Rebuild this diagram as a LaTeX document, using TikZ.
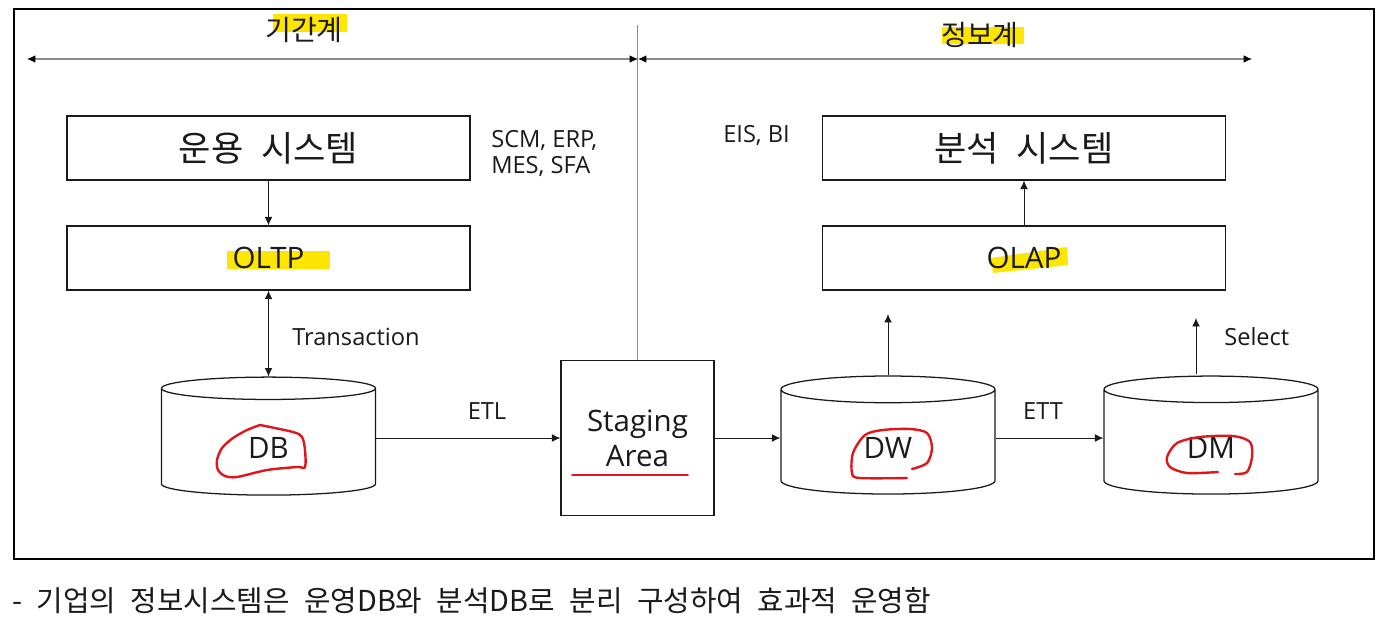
\documentclass[tikz,border=0pt]{standalone}
\usepackage{fontspec}
\setmainfont{Open Sans}
\newfontfamily\kr{Noto Sans CJK KR}
\usetikzlibrary{arrows.meta,positioning,shapes.geometric}
\definecolor{ink}{HTML}{1A1A1A}
\definecolor{rulegray}{HTML}{8C8C8C}
\definecolor{hilite}{HTML}{FFE600}
\definecolor{pen}{HTML}{E0161B}
\newcommand\widesp[1]{\spaceskip=#1\relax}
\tikzset{
  sysbox/.style={draw=ink,line width=0.9pt,minimum width=100.75mm,
                 minimum height=16mm,inner sep=0pt},
  dbcyl/.style={cylinder,shape border rotate=90,draw=ink,line width=0.9pt,
                aspect=0.55,minimum width=53.5mm,minimum height=29.5mm,
                inner sep=0pt,text height=8mm,text depth=0pt},
  lbl/.style={font=\fontsize{16.8}{18.5}\selectfont,text=ink,inner sep=0pt},
  big/.style={font=\fontsize{21}{25}\selectfont,text=ink,inner sep=0pt},
  krbig/.style={font={\kr\fontsize{25}{29}\selectfont\widesp{0.5em}},text=ink},
  krtop/.style={font=\kr\fontsize{20}{24}\selectfont,text=ink,inner sep=0pt},
  arrowthin/.style={-{Latex[length=6pt,width=5.5pt]},line width=0.6pt,ink},
  arrowboth/.style={{Latex[length=6pt,width=5.5pt]}-{Latex[length=6pt,width=5.5pt]},
                    line width=0.6pt,ink},
  span/.style={{Latex[length=6pt,width=5.5pt,color=black]}-{Latex[length=6pt,width=5.5pt,color=black]},
               line width=0.8pt,rulegray},
  redpen/.style={pen,line width=1.7pt,line cap=round,line join=round},
}

\begin{document}
\begin{tikzpicture}[x=0.25mm,y=-0.25mm]
  \useasboundingbox (0,0) rectangle (1393,624);
  \draw[black,line width=1.4pt] (14,9) rectangle (1374,559);
  % markers under the text
  \fill[hilite] (273,14) rectangle (347,32);
  \fill[hilite] (942,27) rectangle (1024,44);
  \fill[hilite] (227,251) rectangle (330,269);
  \fill[hilite] (991,258) -- (1067,247) -- (1068,265) -- (993,273) -- cycle;
  % operational side
  \node[sysbox,krbig] (ops) at (268.5,148) {운용 시스템};
  \node[sysbox,big] (oltp) at (268.5,258) {OLTP};
  \node[dbcyl,big] (db) at (268.5,442) {DB};
  \node[draw=ink,line width=0.9pt,minimum width=38.25mm,minimum height=38.75mm,
        align=center,big] (stage) at (637.5,438) {Staging\\Area};
  % analytic side
  \node[sysbox,krbig] (anl) at (1024,148) {분석 시스템};
  \node[sysbox,big] (olap) at (1024,258) {OLAP};
  \node[dbcyl,big] (dw) at (888,442) {DW};
  \node[dbcyl,big] (dm) at (1211,442) {DM};
  % labels
  \node[krtop] (legacy) at (304,30) {기간계};
  \node[krtop] (info) at (980,35) {정보계};
  \node[lbl,anchor=west,align=left] (erp) at (491,153) {SCM, ERP,\\MES, SFA};
  \node[lbl,anchor=west] (eis) at (723,135) {EIS, BI};
  \node[lbl,anchor=west] (trans) at (292,337) {Transaction};
  \node[lbl] (etl) at (487,411) {ETL};
  \node[lbl] (ett) at (1043,411) {ETT};
  \node[lbl,anchor=west] (sel) at (1224,337) {Select};
  \node[anchor=west,inner sep=0pt,text=ink,
        font={\kr\fontsize{20.5}{24}\selectfont\widesp{0.5em}}]
    (note) at (12,601) {- 기업의 정보시스템은 운영DB와 분석DB로 분리 구성하여 효과적 운영함};
  % free ends
  \coordinate (lend) at (27,59);
  \coordinate (mid) at (638,59);
  \coordinate (rend) at (1252,59);
  \coordinate (divtop) at (637.5,25);
  \coordinate (dwup) at (888,314);
  \coordinate (dmlow) at (1196,374);
  \coordinate (dmup) at (1196,318);
  % connectors
  \draw[rulegray,line width=0.8pt] (stage.north) -- (divtop);
  \draw[span] (lend) -- (mid);
  \draw[span] (mid) -- (rend);
  \draw[arrowthin] (ops) -- (oltp);
  \draw[arrowboth] (oltp) -- (db);
  \draw[arrowthin] (stage.west -| db.east) -- (stage.west);
  \draw[arrowthin] (stage.east) -- (stage.east -| dw.west);
  \draw[arrowthin] (stage.east -| dw.east) -- (stage.east -| dm.west);
  \draw[arrowthin] (olap) -- (anl);
  \draw[arrowthin] (dw.north) -- (dwup);
  \draw[arrowthin] (dmlow) -- (dmup);
  % red pen marks
  \draw[redpen] plot[smooth] coordinates {(260,425) (293,432) (302,437) (305,450)
    (305,467) (297,467) (267,470) (237,477) (225,476) (218,470) (217,460)
    (222,448) (233,438) (247,430) (260,425)};
  \draw[redpen] plot[smooth] coordinates {(912,469) (927,463) (932,448) (927,433)
    (910,429) (883,430) (865,435) (853,453) (852,473) (860,478) (907,478)};
  \draw[redpen] plot[smooth] coordinates {(1218,472) (1187,473) (1170,467) (1167,457)
    (1177,443) (1200,437) (1233,436) (1250,442) (1252,457) (1247,472) (1235,474)};
  \draw[redpen,line width=1.3pt] (572,475) -- (688,475);
\end{tikzpicture}
\end{document}
